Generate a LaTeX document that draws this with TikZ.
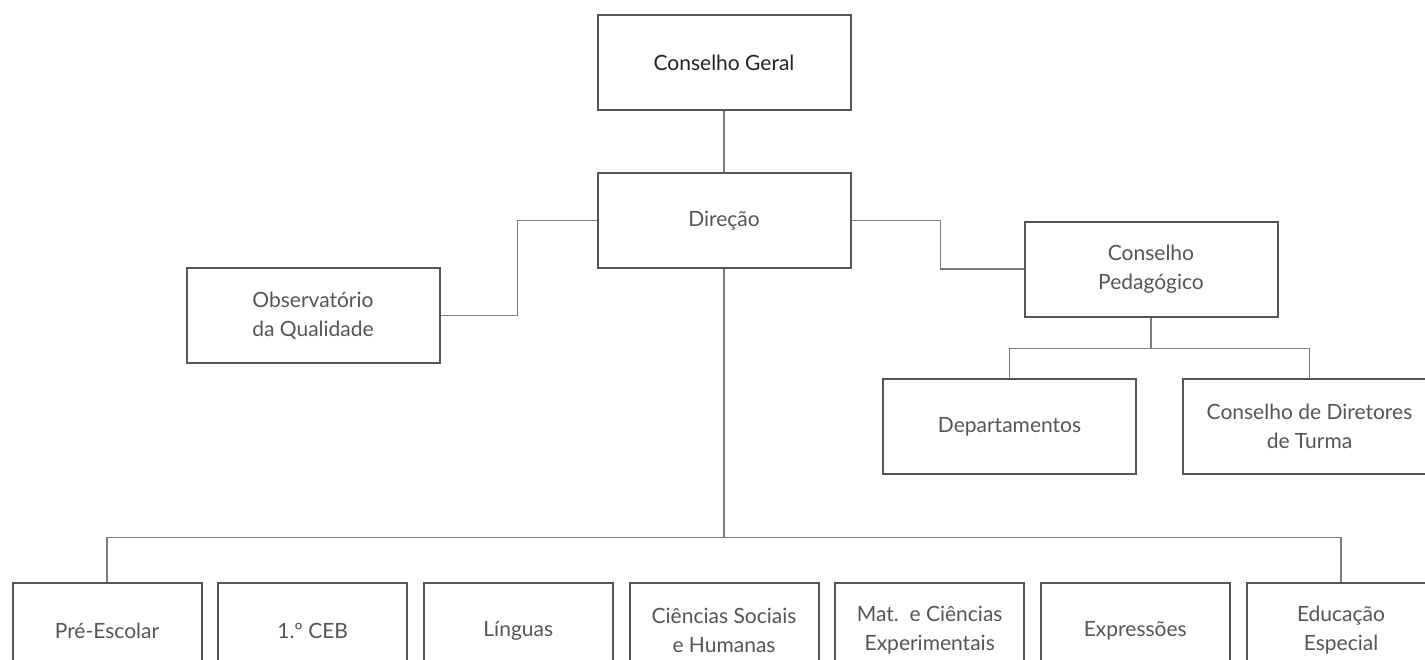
\documentclass[tikz,border=0pt]{standalone}
\usepackage{fontspec}
\setmainfont{Lato}
\definecolor{boxline}{HTML}{555555}
\definecolor{conline}{HTML}{7A7A7A}
\definecolor{txtgray}{HTML}{555555}
\definecolor{txtdark}{HTML}{222222}
\tikzset{
  orgbox/.style={draw=boxline, line width=2pt, fill=white, rectangle,
    minimum width=253pt, minimum height=95pt, inner sep=0pt,
    align=center, text=txtgray, font=\fontsize{21}{29}\selectfont},
  unitbox/.style={orgbox, minimum width=189pt},
  conn/.style={draw=conline, line width=1.6pt}
}
\begin{document}
\begin{tikzpicture}[x=1pt, y=-1pt]
\useasboundingbox (0,0) rectangle (1425,659);
\clip (0,0) rectangle (1425,659);
% top
\node[orgbox, text=txtdark] (cg) at (724,62.5) {Conselho Geral};
\node[orgbox] (dir) at (724,220.5) {Direção};
\node[orgbox] (obs) at (313,315.5) {Observatório\\da Qualidade};
\node[orgbox] (cp) at (1151,269) {Conselho\\Pedagógico};
\node[orgbox] (dep) at (1009.5,426.5) {Departamentos};
\node[orgbox] (cdt) at (1309.5,426.5) {Conselho de Diretores\\de Turma};
% bottom row
\node[unitbox] (u1) at (107,630.5) {Pré-Escolar};
\node[unitbox] (u2) at (312.7,630.5) {1.º CEB};
\node[unitbox] (u3) at (518.3,630.5) {Línguas};
\node[unitbox] (u4) at (724,630.5) {Ciências Sociais\\e Humanas};
\node[unitbox] (u5) at (929.7,630.5) {Mat.\ \ e Ciências\\Experimentais};
\node[unitbox] (u6) at (1135.3,630.5) {Expressões};
\node[unitbox] (u7) at (1341,630.5) {Educação\\Especial};
% connectors
\draw[conn] (cg.south) -- (dir.north);
\draw[conn] (dir.west) -- ++(-79,0) |- (obs.east);
\draw[conn] (dir.east) -- ++(89,0) |- (cp.west);
\draw[conn, line width=2.6pt] (cp.south) -- ++(0,31) coordinate (cpb);
\draw[conn] (dep.north) |- (cpb) -| (cdt.north);
\draw[conn] (dir.south) -- ++(0,268.5) coordinate (bus);
\draw[conn] (u1.north) |- (bus) -| (u7.north);
\end{tikzpicture}
\end{document}
